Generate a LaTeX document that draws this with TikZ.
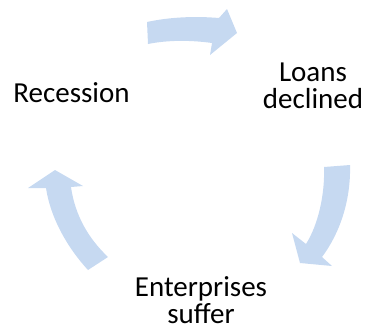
\documentclass[tikz,border=0pt]{standalone}
\usepackage{fontspec}
\setmainfont{Carlito}
\definecolor{cycblue}{HTML}{C6D9F1}
\begin{document}
\begin{tikzpicture}[x=1pt,y=-1pt,cyc/.style={fill=cycblue},
  lbl/.style={inner sep=0pt,align=center,font=\fontsize{29}{27.5}\selectfont}]
\useasboundingbox (0,0) rectangle (365,330);
\node[lbl,anchor=base] (rec) at (71.5,102.5) {Recession};
\node[lbl,anchor=base] (loan) at (313,108.5) {Loans\\declined};
\node[lbl,anchor=base] (ent) at (201,323.5) {Enterprises\\suffer};
% top
\fill[cyc] (147,22) .. controls (170,17) and (195,16) .. (219,18) -- (227,9) -- (237,33)
  -- (210,55) -- (212,43) .. controls (190,40) and (168,40) .. (148,44) -- cycle;
% right
\fill[cyc] (324,167) -- (350,165) .. controls (351,200) and (340,233) .. (322,257) -- (332,266)
  -- (300,263) -- (292,233) -- (306,244) .. controls (318,225) and (325,195) .. (324,167) -- cycle;
% left
\fill[cyc] (88,270) .. controls (65,245) and (50,215) .. (46,188) -- (28,188) -- (55,170)
  -- (83,186) -- (71,187) .. controls (75,215) and (88,238) .. (108,257) -- cycle;
\end{tikzpicture}
\end{document}
